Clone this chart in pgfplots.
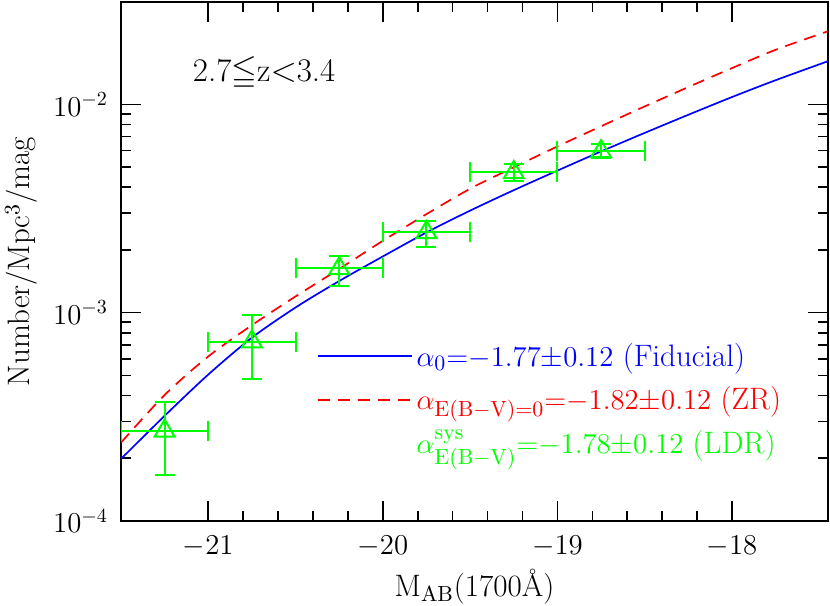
\documentclass[border=0pt]{standalone}
\usepackage{pgfplots}
\pgfplotsset{compat=1.18}
\usepackage{amssymb}
\definecolor{pgreen}{RGB}{0,255,0}
\definecolor{pblue}{RGB}{0,0,255}
\definecolor{pred}{RGB}{255,0,0}
\begin{document}
\begin{tikzpicture}
\begin{semilogyaxis}[
  scale only axis, width=353.5pt, height=259.5pt,
  xmin=-21.5, xmax=-17.45, ymin=1e-4, ymax=0.031,
  xtick={-21,-20,-19,-18}, minor x tick num=4,
  ytick={1e-4,1e-3,1e-2},
  tick align=inside, major tick length=10pt, minor tick length=5pt,
  axis line style={line width=0.8pt},
  every tick/.style={black, line width=0.8pt},
  tick label style={font=\fontsize{14}{16}\selectfont},
  label style={font=\fontsize{15.5}{17}\selectfont},
  xticklabel style={yshift=-4pt},
  yticklabel style={xshift=-3pt},
  xlabel={M$_{\mathrm{AB}}$(1700Å)},
  ylabel={Number/Mpc$^3$/mag},
  xlabel style={yshift=1pt},
  ylabel style={yshift=1pt},
  legend style={draw=none, fill=none, at={(rel axis cs:0.276,0.351)}, anchor=north west,
    font=\fontsize{15.5}{17}\selectfont, row sep=4.5pt, inner sep=0pt},
  legend cell align=left,
  legend image code/.code={\draw[#1] (0pt,0pt) -- (35pt,0pt); \path (0pt,0pt) -- (47pt,0pt);},
]
\addlegendimage{pblue, line width=1pt}
\addlegendentry{\textcolor{pblue}{$\alpha_0{=}{-}1.77{\pm}0.12$ (Fiducial)}}
\addlegendimage{pred, line width=1pt, dash pattern=on 6pt off 4pt}
\addlegendentry{\textcolor{pred}{$\alpha_{\mathrm{E(B-V)=0}}{=}{-}1.82{\pm}0.12$ (ZR)}}
\addlegendimage{empty legend}
\addlegendentry{\textcolor{pgreen}{$\alpha^{\mathrm{sys}}_{\mathrm{E(B-V)}}{=}{-}1.78{\pm}0.12$ (LDR)}}
\addplot[pblue, line width=0.85pt, smooth, forget plot] coordinates {
(-21.5,1.986e-4) (-21.25,3.199e-4) (-21.0,5.047e-4) (-20.75,7.586e-4)
(-20.5,1.059e-3) (-20.25,1.419e-3) (-20.0,1.862e-3) (-19.75,2.427e-3)
(-19.5,3.090e-3) (-19.25,3.873e-3) (-19.0,4.808e-3) (-18.75,5.943e-3)
(-18.5,7.295e-3) (-18.25,8.913e-3) (-18.0,1.084e-2) (-17.75,1.306e-2)
(-17.45,1.611e-2)
};
\addplot[pred, line width=0.85pt, smooth, dash pattern=on 6pt off 4pt, forget plot] coordinates {
(-21.5,2.377e-4) (-21.25,4.027e-4) (-21.0,6.166e-4) (-20.75,8.710e-4)
(-20.5,1.197e-3) (-20.25,1.622e-3) (-20.0,2.213e-3) (-19.75,2.972e-3)
(-19.5,3.936e-3) (-19.25,4.989e-3) (-19.0,6.281e-3) (-18.75,7.852e-3)
(-18.5,9.772e-3) (-18.25,1.211e-2) (-18.0,1.493e-2) (-17.75,1.828e-2)
(-17.45,2.244e-2)
};
\addplot[pgreen, only marks, mark=triangle, mark size=5.7pt, line width=1pt,
  mark options={solid, line width=1pt}, forget plot,
  error bars/.cd, x dir=both, x explicit, y dir=both, y explicit,
  error bar style={pgreen, line width=1pt},
  error mark options={pgreen, line width=1pt, mark size=5pt, rotate=90}]
coordinates {
(-21.25,2.71e-4) += (0.25,1.02e-4) -= (0.25,1.05e-4)
(-20.75,7.26e-4) += (0.25,2.52e-4) -= (0.25,2.44e-4)
(-20.25,1.63e-3) += (0.25,0.25e-3) -= (0.25,0.28e-3)
(-19.75,2.43e-3) += (0.25,0.31e-3) -= (0.25,0.36e-3)
(-19.25,4.71e-3) += (0.25,0.49e-3) -= (0.25,0.44e-3)
(-18.75,5.94e-3) += (0.25,0.49e-3) -= (0.25,0.44e-3)
};
\node[font=\fontsize{16.5}{18}\selectfont] at (axis cs:-20.68,0.0141) {2.7$\leqq$z$<$3.4};
\end{semilogyaxis}
\pgfresetboundingbox
\path ([shift={(-60.5pt,-42.5pt)}]current axis.south west) rectangle ([shift={(1pt,1pt)}]current axis.north east);
\end{tikzpicture}
\end{document}
